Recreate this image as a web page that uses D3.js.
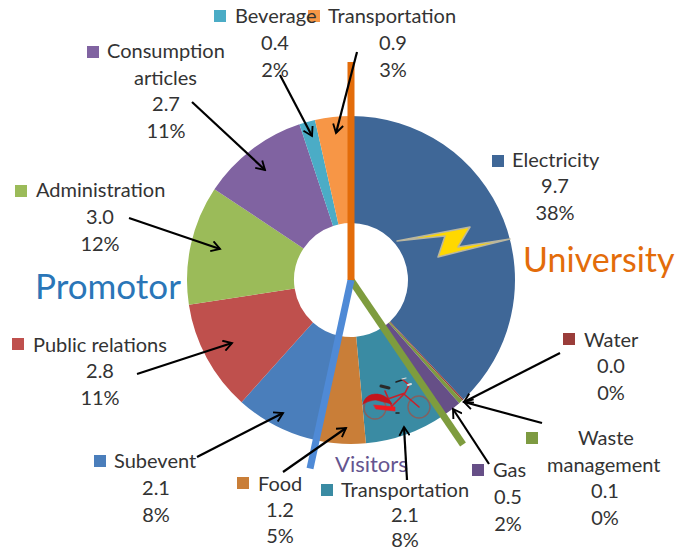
<!DOCTYPE html>
<html>
<head>
<meta charset="utf-8">
<script src="https://d3js.org/d3.v7.min.js"></script>
<style>
html,body{margin:0;padding:0;background:#fff}
text{font-family:Lato,"Open Sans",sans-serif}
</style>
</head>
<body>
<div id="chart"></div>
<script>
// cost split, clockwise from 12 o'clock
var categories = ["Electricity","Water","Waste management","Gas","Transportation","Food","Subevent","Public relations","Administration","Consumption articles","Beverage","Transportation"]
var values = [9.7,0.04,0.1,0.5,2.06,1.24,2.1,2.8,3.0,2.7,0.4,0.9]
var valueLabels = ["9.7","0.0","0.1","0.5","2.1","1.2","2.1","2.8","3.0","2.7","0.4","0.9"]
var percents = ["38%","0%","0%","2%","8%","5%","8%","11%","12%","11%","2%","3%"]
var colors = ["#3f6797","#9a3d3a","#7d9a41","#664f87","#3a8ba3","#c97e38","#4a7ebb","#bf504d","#9bbb59","#8063a1","#4bacc6","#f79646"]

// where each label sits: marker, first line start/centre, number column, baselines
var labelPos = [
  {mx:492,my:155,nameX:[512],nameY:[167],cx:555,y:[193,220]},
  {mx:563,my:333,nameX:[584],nameY:[347],cx:611,y:[373,400]},
  {mx:526,my:432,nameX:[578,547],nameY:[445,472],cx:605,y:[498,525]},
  {mx:472,my:464,nameX:[493],nameY:[477],cx:508,y:[504,531]},
  {mx:321,my:484,nameX:[341],nameY:[497],cx:405,y:[522,547]},
  {mx:237,my:477,nameX:[258],nameY:[491],cx:280,y:[517,543]},
  {mx:94,my:455,nameX:[114],nameY:[468],cx:156,y:[495,522]},
  {mx:12,my:338,nameX:[33],nameY:[352],cx:100,y:[378,405]},
  {mx:15,my:185,nameX:[36],nameY:[197],cx:100,y:[224,251]},
  {mx:87,my:46,nameX:[107,134],nameY:[58,85],cx:166,y:[111,138]},
  {mx:214,my:10,nameX:[235],nameY:[23],cx:275,y:[50,77]},
  {mx:308,my:10,nameX:[328],nameY:[23],cx:393,y:[50,77]}
]
var nameLines = [["Electricity"],["Water"],["Waste","management"],["Gas"],["Transportation"],["Food"],["Subevent"],["Public relations"],["Administration"],["Consumption","articles"],["Beverage"],["Transportation"]]

// leader arrows [from x,y, to x,y]
var arrows = [
  [192,102,265,170],[280,75,312,136],[357,52,336,133],[129,218,220,249],
  [137,374,232,343],[197,457,283,413],[283,472,346,428],[407,480,404,427],
  [489,464,453,409],[542,423,464,402],[560,353,464,402]
]

// the three party borders run on the slice edges: after gas, after food, at 12 o'clock
var dividers = [
  {after:3,len:199,color:"#7e9c3e"},
  {after:5,len:193,color:"#4f8ad6"},
  {after:11,len:218,color:"#e36c0a"}
]
var groupTitles = [
  {t:"University",x:523,y:272,size:34,color:"#e36c0a"},
  {t:"Promotor",x:35,y:299,size:35,color:"#2a76b8"},
  {t:"Visitors",x:335,y:472,size:22,color:"#65558f"}
]

var cx = 351, cy = 280, outer = 164, inner = 57

var svg = d3.select("#chart").append("svg")
  .attr("width",678)
  .attr("height",552)
  .style("display","block")

svg.append("defs").append("marker")
  .attr("id","open")
  .attr("viewBox","0 0 14 14")
  .attr("refX",12)
  .attr("refY",7)
  .attr("markerWidth",12)
  .attr("markerHeight",12)
  .attr("markerUnits","userSpaceOnUse")
  .attr("orient","auto")
  .append("path")
  .attr("d","M2,1 L12,7 L2,13")
  .attr("fill","none")
  .attr("stroke","#000")
  .attr("stroke-width",2.2)

var pie = d3.pie().sort(null).value(function(d){return d})
var arcs = pie(values)
var arc = d3.arc().innerRadius(inner).outerRadius(outer)

var g = svg.append("g").attr("transform","translate("+cx+","+cy+")")
g.selectAll("path.slice")
  .data(arcs)
  .enter().append("path")
  .attr("class","slice")
  .attr("d",arc)
  .attr("fill",function(d,i){return colors[i]})

// labels
svg.selectAll("rect.key")
  .data(labelPos)
  .enter().append("rect")
  .attr("class","key")
  .attr("x",function(d){return d.mx})
  .attr("y",function(d){return d.my})
  .attr("width",12)
  .attr("height",12)
  .attr("fill",function(d,i){return colors[i]})

labelPos.forEach(function(p,i){
  nameLines[i].forEach(function(line,j){
    svg.append("text")
      .attr("x",p.nameX[j])
      .attr("y",p.nameY[j])
      .attr("font-size",20)
      .attr("fill","#333")
      .text(line)
  })
  var nums = [valueLabels[i],percents[i]]
  nums.forEach(function(line,j){
    svg.append("text")
      .attr("x",p.cx)
      .attr("y",p.y[j])
      .attr("text-anchor","middle")
      .attr("font-size",20)
      .attr("fill","#333")
      .text(line)
  })
})

svg.selectAll("text.title")
  .data(groupTitles)
  .enter().append("text")
  .attr("class","title")
  .attr("x",function(d){return d.x})
  .attr("y",function(d){return d.y})
  .attr("font-size",function(d){return d.size})
  .attr("fill",function(d){return d.color})
  .text(function(d){return d.t})

svg.selectAll("line.arrow")
  .data(arrows)
  .enter().append("line")
  .attr("class","arrow")
  .attr("x1",function(d){return d[0]})
  .attr("y1",function(d){return d[1]})
  .attr("x2",function(d){return d[2]})
  .attr("y2",function(d){return d[3]})
  .attr("stroke","#000")
  .attr("stroke-width",2.2)
  .attr("marker-end","url(#open)")

// thick borders follow the pie angles
g.selectAll("line.divider")
  .data(dividers)
  .enter().append("line")
  .attr("class","divider")
  .attr("x1",0)
  .attr("y1",0)
  .attr("x2",function(d){return d.len*Math.sin(arcs[d.after].endAngle)})
  .attr("y2",function(d){return -d.len*Math.cos(arcs[d.after].endAngle)})
  .attr("stroke",function(d){return d.color})
  .attr("stroke-width",7)

// lightning bolt
svg.append("path")
  .attr("d","M397,241 L470,227 L458,247 L510,239 L438,257 L445,236 Z")
  .attr("fill","#ffd800")
  .attr("stroke","#b9b6a0")
  .attr("stroke-width",1.5)
  .attr("stroke-linejoin","round")

// bicycle
var bike = svg.append("g").attr("fill","none").attr("stroke-linecap","round")
bike.append("circle").attr("cx",375).attr("cy",408).attr("r",11).attr("stroke","#84605f").attr("stroke-width",1.4)
bike.append("circle").attr("cx",419).attr("cy",407).attr("r",11).attr("stroke","#84605f").attr("stroke-width",1.4)
bike.append("path").attr("d","M385,391 L392,407 M385,400 L405,393 L392,406 M405,395 L419,407 M405,393 L409,385 L403,380")
  .attr("stroke","#c8202a").attr("stroke-width",1.6)
bike.append("path").attr("d","M363,404 C365,394 376,392 384,396 C388,398 391,402 392,404 L376,400 C372,400 366,402 363,404 Z").attr("fill","#c4151b").attr("stroke","#c4151b").attr("stroke-width",0.6)
bike.append("path").attr("d","M374,405 L395,407 L395,411 L376,409 Z").attr("fill","#f01a20").attr("stroke","#f01a20").attr("stroke-width",0.6)
bike.append("path").attr("d","M381,386 L389,388").attr("stroke","#2a2a2a").attr("stroke-width",3)
bike.append("path").attr("d","M396,382 L402,380").attr("stroke","#222").attr("stroke-width",1.6)
bike.append("path").attr("d","M402,379 L406,378").attr("stroke","#ddd").attr("stroke-width",1.2)
bike.append("path").attr("d","M408,385 L411,384").attr("stroke","#ddd").attr("stroke-width",2)
bike.append("path").attr("d","M396,413 L399,413").attr("stroke","#222").attr("stroke-width",1.5)
</script>
</body>
</html>
